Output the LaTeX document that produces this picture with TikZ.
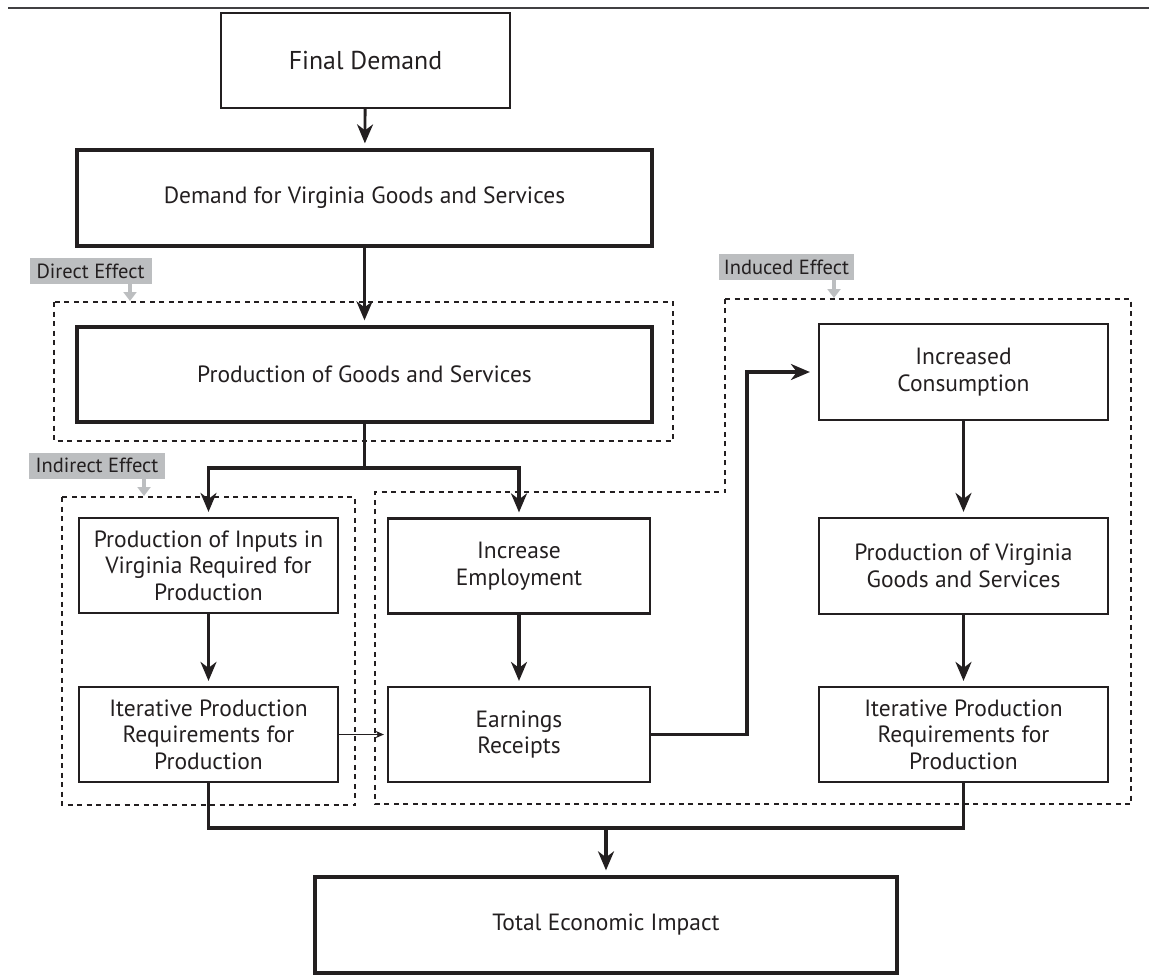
\documentclass[tikz,border=0pt]{standalone}
\usepackage{fontspec}
\setmainfont{PT Sans}
\usetikzlibrary{arrows.meta}
\definecolor{ink}{HTML}{231F20}
\definecolor{tagfill}{HTML}{BCBEC0}
\definecolor{rulecol}{HTML}{414042}
\begin{document}
\begin{tikzpicture}[x=1pt,y=-1pt,
  every node/.style={font=\fontsize{23.5}{26.5}\selectfont, text=ink},
  box/.style={draw=ink, line width=2.2pt, inner sep=0pt, align=center},
  heavybox/.style={box, line width=3.3pt},
  cbox/.style={box, minimum width=259pt, minimum height=95pt},
  conn/.style={draw=ink, line width=3.3pt},
  link/.style={conn, -{Stealth[length=19pt,width=16pt,inset=6pt]}, shorten >=5pt},
  thinlink/.style={draw=ink, line width=1.6pt, -{Stealth[length=8pt,width=7pt,inset=2pt]}, shorten >=3pt},
  region/.style={draw=ink, line width=1.3pt, dash pattern=on 5pt off 4.5pt},
  tagbox/.style={fill=tagfill, inner sep=0pt, minimum height=26pt, font=\fontsize{20.5}{22}\selectfont},
  tagarrow/.style={draw=tagfill, line width=4.5pt, -{Triangle[length=9pt,width=13pt]}},
]
\useasboundingbox (0,0) rectangle (1149,978);
% top rule
\draw[rulecol, line width=2pt] (8,8) -- (1149,8);

% dashed regions
\draw[region] (54,302) rectangle (673,441);
\draw[region] (62,497) rectangle (355,805);
\draw[region] (725,299) -- (1131,299) -- (1131,804) -- (375,804) -- (375,492) -- (725,492) -- cycle;

% boxes
\node[box, minimum width=289pt, minimum height=95pt, font=\fontsize{25.8}{28}\selectfont] (fd) at (365.5,60.5) {Final Demand};
\node[heavybox, minimum width=575pt, minimum height=96pt] (dem) at (364.5,198) {Demand for Virginia Goods and Services};
\node[heavybox, minimum width=575pt, minimum height=95pt] (prod) at (364.5,374.5) {Production of Goods and Services};
\node[cbox] (inp) at (208.5,565.5) {Production of Inputs in\\Virginia Required for\\Production};
\node[cbox] (itl) at (208.5,734.5) {Iterative Production\\Requirements for\\Production};
\node[cbox, minimum width=262pt] (emp) at (519,566) {Increase\\Employment};
\node[cbox, minimum width=262pt] (ear) at (519,734.5) {Earnings\\Receipts};
\node[cbox, minimum width=289pt, minimum height=96pt] (ic) at (963.5,372) {Increased\\Consumption};
\node[cbox, minimum width=289pt, minimum height=96pt] (pv) at (963.5,566) {Production of Virginia\\Goods and Services};
\node[cbox, minimum width=289pt] (itr) at (963.5,734.5) {Iterative Production\\Requirements for\\Production};
\node[heavybox, minimum width=582pt, minimum height=96pt] (tot) at (606,925) {Total Economic Impact};

% tags
\node[tagbox, minimum width=122pt] (tdir) at (90.5,271) {Direct Effect};
\node[tagbox, minimum width=136pt] (tind) at (97,465.5) {Indirect Effect};
\node[tagbox, minimum width=135pt] (tinu) at (786.5,267) {Induced Effect};
\draw[tagarrow] (tdir.south -| 130,0) -- (130,301);
\draw[tagarrow] (tind.south -| 144,0) -- (144,496);
\draw[tagarrow] (tinu.south -| 834,0) -- (834,298);

% connectors
\draw[link, line width=2.8pt] (fd) -- (dem);
\draw[link] (dem) -- (prod);
\coordinate (split) at (364.5,468);
\draw[conn] (prod.south) -- (split);
\draw[link] (split) -| (inp.north);
\draw[link] (split) -| (emp.north);
\draw[link] (inp) -- (itl);
\draw[link] (emp) -- (ear);
\draw[link] (ic) -- (pv);
\draw[link] (pv) -- (itr);
\draw[thinlink] (itl.east) -- (ear.west);
\coordinate (bend) at (747,734.5);
\draw[link, shorten >=8pt] (ear.east) -- (bend) |- (ic.west);
\coordinate (join) at (606,828);
\draw[conn] (itl.south) |- (join) -| (itr.south);
\draw[link] (join) -- (tot.north);
\end{tikzpicture}
\end{document}
